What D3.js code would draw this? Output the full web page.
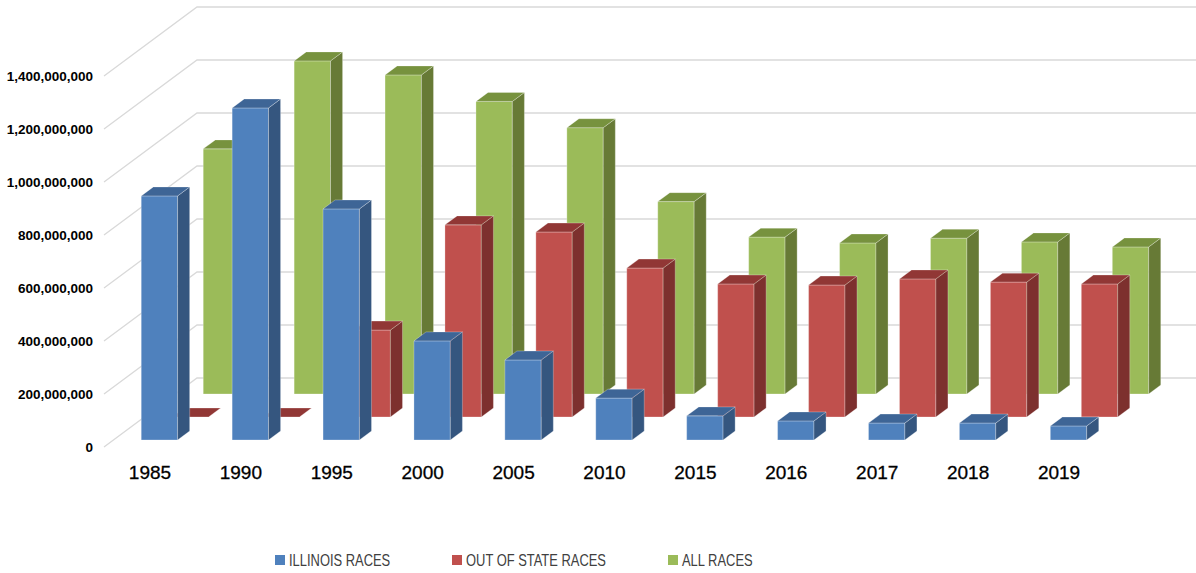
<!DOCTYPE html>
<html>
<head>
<meta charset="utf-8">
<script src="https://cdn.jsdelivr.net/npm/d3@7"></script>
<style>
  body { margin: 0; background: #fff; }
  svg { display: block; }
</style>
</head>
<body>
<script>
// values (dollars)
const years = ["1985", "1990", "1995", "2000", "2005", "2010", "2015", "2016", "2017", "2018", "2019"];
const illinoisRaces = [921e6, 1253e6, 872e6, 374e6, 302e6, 158e6, 91e6, 72e6, 64e6, 64e6, 53e6];
const outOfStateRaces = [0, 0, 328e6, 725e6, 698e6, 562e6, 502e6, 498e6, 521e6, 509e6, 502e6];
const allRaces = [925e6, 1257e6, 1204e6, 1104e6, 1005e6, 726e6, 592e6, 570e6, 588e6, 574e6, 555e6];
const yTicks = [0, 2e8, 4e8, 6e8, 8e8, 1e9, 1.2e9, 1.4e9];

const seriesNames = ["ILLINOIS RACES", "OUT OF STATE RACES", "ALL RACES"];
const seriesValues = [illinoisRaces, outOfStateRaces, allRaces];
const seriesColors = [
  { front: "#4f81bd", side: "#35567f", top: "#3e6596" },
  { front: "#c0504d", side: "#7d302e", top: "#913735" },
  { front: "#9bbb59", side: "#677a36", top: "#77923e" }
];

const W = 1196, H = 573;
const DX = 93, DY = 69; // depth vector of whole floor

const svg = d3.select("body").append("svg")
  .attr("width", W)
  .attr("height", H);

const x = d3.scaleBand().domain(years).range([104.5, 1104.5]).paddingInner(0.6).paddingOuter(0.3);
const y = d3.scaleLinear().domain([0, 1.4e9]).range([447, 76]);
const z = d3.scaleBand().domain(seriesNames).range([0, 1]).paddingInner(0.61).paddingOuter(0.305);

function P(px, v, zz) {
  return [px + zz * DX, y(v) - zz * DY];
}
function poly(pts) {
  return "M" + pts.map(p => p[0].toFixed(2) + "," + p[1].toFixed(2)).join("L") + "Z";
}

// grid: left wall diagonals + back wall lines
const xl = x.range()[0] - 0.5, xr = x.range()[1] + 0.5;
const grid = svg.append("g");
yTicks.forEach(function(v) {
  const a = P(xl, v, 0), b = P(xl, v, 1), c = P(xr, v, 1);
  grid.append("path")
    .attr("d", "M" + a + "L" + b + "L" + c)
    .attr("fill", "none")
    .attr("stroke", "#d9d9d9")
    .attr("stroke-width", 1.3);
});

// y labels
svg.append("g").selectAll("text")
  .data(yTicks)
  .join("text")
  .attr("x", 93)
  .attr("y", d => y(d) + 5)
  .attr("text-anchor", "end")
  .attr("font-family", "Liberation Sans, Arial, sans-serif")
  .attr("font-weight", "bold")
  .attr("font-size", 13.5)
  .attr("fill", "#000")
  .text(d3.format(","));

// bars, back row first
const bw = x.bandwidth(), dz = z.bandwidth();
const bars = svg.append("g");
[2, 1, 0].forEach(function(s) {
  const col = seriesColors[s];
  const z0 = z(seriesNames[s]), z1 = z0 + dz;
  years.forEach(function(yr, i) {
    const v = seriesValues[s][i];
    const x0 = x(yr), x1 = x0 + bw;
    const g = bars.append("g")
      .attr("stroke", "rgba(255,255,255,0.35)")
      .attr("stroke-width", 0.8)
      .attr("stroke-linejoin", "round");
    g.append("path")
      .attr("d", poly([P(x0, 0, z0), P(x1, 0, z0), P(x1, v, z0), P(x0, v, z0)]))
      .attr("fill", col.front);
    g.append("path")
      .attr("d", poly([P(x1, 0, z0), P(x1, 0, z1), P(x1, v, z1), P(x1, v, z0)]))
      .attr("fill", col.side);
    g.append("path")
      .attr("d", poly([P(x0, v, z0), P(x1, v, z0), P(x1, v, z1), P(x0, v, z1)]))
      .attr("fill", col.top);
  });
});

// x labels
svg.append("g").selectAll("text")
  .data(years)
  .join("text")
  .attr("x", d => x(d) + bw / 2)
  .attr("y", 479)
  .attr("text-anchor", "middle")
  .attr("font-family", "Liberation Sans, Arial, sans-serif")
  .attr("font-size", 19)
  .attr("fill", "#000")
  .attr("stroke", "#000")
  .attr("stroke-width", 0.3)
  .text(d => d);

// legend
const legendX = [275, 452, 668];
const legend = svg.append("g");
seriesNames.forEach(function(name, i) {
  legend.append("rect")
    .attr("x", legendX[i]).attr("y", 555)
    .attr("width", 10).attr("height", 10)
    .attr("fill", seriesColors[i].front);
  const t = legend.append("text")
    .attr("x", legendX[i] + 14)
    .attr("y", 565.5)
    .attr("font-family", "Liberation Sans, Arial, sans-serif")
    .attr("font-size", 17)
    .attr("fill", "#404040")
    .text(name);
  const w = t.node().getComputedTextLength();
  t.attr("textLength", w * 0.76).attr("lengthAdjust", "spacingAndGlyphs");
});
</script>
</body>
</html>
